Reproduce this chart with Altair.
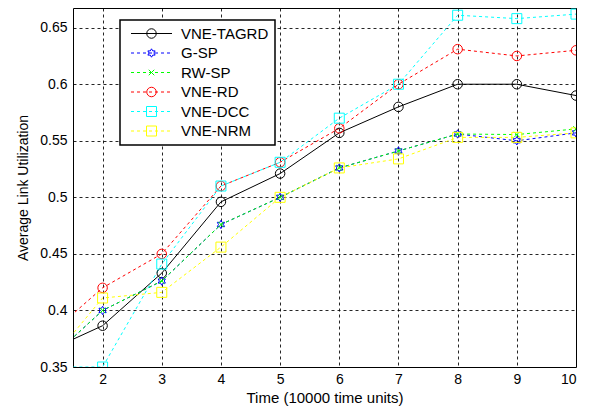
import math
import altair as alt
import pandas as pd

# ---------------- data ----------------
x_vals = [1, 2, 3, 4, 5, 6, 7, 8, 9, 10]
series_names = ["VNE-TAGRD", "G-SP", "RW-SP", "VNE-RD", "VNE-DCC", "VNE-NRM"]
vne_tagrd = [0.3625, 0.3865, 0.433, 0.496, 0.521, 0.557, 0.580, 0.600, 0.600, 0.590]
g_sp = [0.352, 0.400, 0.426, 0.476, 0.500, 0.526, 0.541, 0.556, 0.550, 0.557]
rw_sp = [0.352, 0.400, 0.426, 0.476, 0.500, 0.526, 0.541, 0.556, 0.5555, 0.5605]
vne_rd = [0.374, 0.420, 0.450, 0.510, 0.531, 0.561, 0.600, 0.631, 0.625, 0.630]
vne_dcc = [0.350, 0.350, 0.441, 0.510, 0.531, 0.570, 0.600, 0.661, 0.658, 0.662]
vne_nrm = [0.348, 0.411, 0.416, 0.456, 0.500, 0.526, 0.534, 0.553, 0.553, 0.557]
x_ticks = [2, 3, 4, 5, 6, 7, 8, 9, 10]
y_ticks = [0.35, 0.4, 0.45, 0.5, 0.55, 0.6, 0.65]

series_values = [vne_tagrd, g_sp, rw_sp, vne_rd, vne_dcc, vne_nrm]
rows = []
for name, vals in zip(series_names, series_values):
    for xv, yv in zip(x_vals, vals):
        rows.append({"series": name, "x": xv, "y": yv})
df = pd.DataFrame(rows)

# ---------------- styles ----------------
colors = ["#000000", "#0000ff", "#00ff00", "#ff0000", "#00ffff", "#ffff00"]
dashes = [None, [3, 3], [3, 3], [3, 3], [3, 3], [3, 3]]
FONT = "Liberation Sans"


def hexagram(r):
    pts = []
    for k in range(12):
        a = math.radians(-90 + k * 30)
        rr = r if k % 2 == 0 else r / math.sqrt(3)
        pts.append(f"{rr * math.cos(a):.3f},{rr * math.sin(a):.3f}")
    return "M" + "L".join(pts) + "Z"


def circle(r):
    return f"M{r},0A{r},{r} 0 1,1 {-r},0A{r},{r} 0 1,1 {r},0"


def xmark(r):
    return f"M{-r},{-r}L{r},{r}M{-r},{r}L{r},{-r}"


def square(r):
    return f"M{-r},{-r}H{r}V{r}H{-r}Z"


# plot markers (shape, size)
markers = [
    ("circle", 90),
    (hexagram(1), 70),
    (xmark(1), 30),
    ("circle", 90),
    ("square", 100),
    ("square", 100),
]

# legend symbols: line segment + marker, unit = 5px (symbol size 100)
L = 4.1


def dashed_line(on=0.6, off=0.6):
    segs = []
    s = -L
    while s < L:
        e = min(s + on, L)
        segs.append(f"M{s:.2f},0H{e:.2f}")
        s += on + off
    return "".join(segs)


legend_marks = [circle(0.95), hexagram(0.84), xmark(0.55), circle(0.95), square(1.0), square(1.0)]
legend_paths = []
for i, m in enumerate(legend_marks):
    line = f"M{-L},0H{L}" if dashes[i] is None else dashed_line()
    legend_paths.append(line + m)

xscale = alt.Scale(domain=[1.5, 10], nice=False, zero=False)
yscale = alt.Scale(domain=[0.35, 0.6674], nice=False, zero=False)

xenc = alt.X(
    "x:Q",
    scale=xscale,
    axis=alt.Axis(
        values=x_ticks,
        format="d",
        title="Time (10000 time units)",
        titleFontSize=15,
        titlePadding=4,
        labelPadding=5,
    ),
)
yenc = alt.Y(
    "y:Q",
    scale=yscale,
    axis=alt.Axis(
        values=y_ticks,
        labelExpr="format(datum.value, '.2~f')",
        title="Average Link Utilization",
        titleFontSize=14,
        titlePadding=9,
        labelPadding=6,
    ),
)

line_layers = []
point_layers = []
for name, col, dash, (shp, sz) in zip(series_names, colors, dashes, markers):
    base = alt.Chart(df).transform_filter(alt.datum.series == name)
    line_kwargs = dict(strokeWidth=1, color=col, clip=True)
    if dash is not None:
        line_kwargs["strokeDash"] = dash
    line_layers.append(base.mark_line(**line_kwargs).encode(x=xenc, y=yenc))
    point_layers.append(
        base.mark_point(
            shape=shp, size=sz, filled=False, color=col, strokeWidth=1, opacity=1, clip=True
        ).encode(x=xenc, y=yenc)
    )

legend_def = alt.Legend(
    orient="none",
    legendX=47,
    legendY=12,
    title=None,
    strokeColor="black",
    fillColor="white",
    padding=6,
    labelFont=FONT,
    labelFontSize=15,
    labelColor="black",
    symbolSize=100,
    symbolStrokeWidth=1,
    symbolOpacity=1,
    symbolOffset=18,
    labelOffset=22,
    rowPadding=3.5,
)

legend_layer = alt.Chart(df).mark_point(
    filled=False, size=100, strokeWidth=1, opacity=0, clip=True
).encode(
    x=xenc,
    y=yenc,
    color=alt.Color(
        "series:N", scale=alt.Scale(domain=series_names, range=colors), legend=legend_def
    ),
    shape=alt.Shape(
        "series:N", scale=alt.Scale(domain=series_names, range=legend_paths), legend=legend_def
    ),
)

chart = (
    alt.layer(*line_layers, *point_layers, legend_layer)
    .properties(
        width=503,
        height=359,
        autosize=alt.AutoSizeParams(type="none"),
        padding={"left": 65, "top": 0, "right": 8, "bottom": 40},
        background="white",
    )
    .configure_view(stroke="black", strokeWidth=1)
    .configure_axis(
        domain=False,
        ticks=False,
        grid=True,
        gridColor="#000000",
        gridDash=[3, 3],
        gridWidth=1,
        gridOpacity=0.85,
        labelFont=FONT,
        labelFontSize=14,
        labelColor="black",
        titleFont=FONT,
        titleColor="black",
        titleFontWeight="normal",
    )
    .configure_legend(strokeWidth=1.5)
)

chart.save("out.html", embed_options={"renderer": "svg", "actions": False})
